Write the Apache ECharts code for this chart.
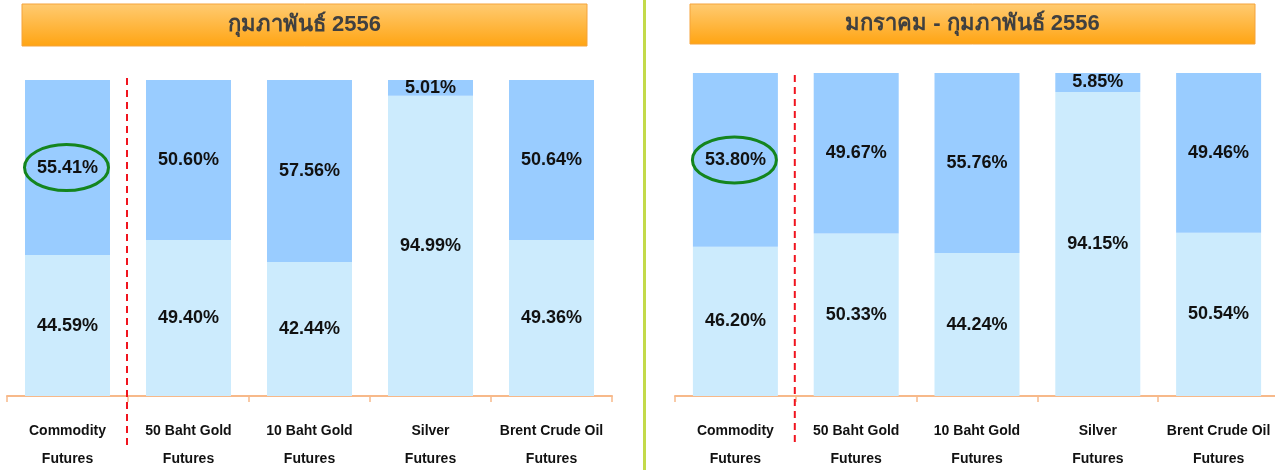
<!DOCTYPE html>
<html>
<head>
<meta charset="utf-8">
<script src="https://cdn.jsdelivr.net/npm/echarts@6/dist/echarts.min.js"></script>
<style>
  html, body { margin: 0; padding: 0; background: #fff; }
  #chart { width: 1275px; height: 470px; }
</style>
</head>
<body>
<div id="chart"></div>
<script>
  const categories = ['Commodity\nFutures', '50 Baht Gold\nFutures', '10 Baht Gold\nFutures', 'Silver\nFutures', 'Brent Crude Oil\nFutures'];
  const febBottom = [44.59, 49.40, 42.44, 94.99, 49.36];
  const febTop = [55.41, 50.60, 57.56, 5.01, 50.64];
  const janFebBottom = [46.20, 50.33, 44.24, 94.15, 50.54];
  const janFebTop = [53.80, 49.67, 55.76, 5.85, 49.46];
  const titles = ['กุมภาพันธ์ 2556', 'มกราคม - กุมภาพันธ์ 2556'];

  const FONT = 'Liberation Sans';
  const TOP_COLOR = '#99CCFF';
  const BOTTOM_COLOR = '#CCEBFD';
  const AXIS_COLOR = '#F7B98A';

  const myChart = echarts.init(document.getElementById('chart'));

  const xAxisOf = (gridIndex)=>({
    type: 'category',
    gridIndex,
    data: categories,
    axisLine: { show: true, lineStyle: { color: AXIS_COLOR, width: 2 } },
    axisTick: { show: true, length: 6, alignWithLabel: false, lineStyle: { color: AXIS_COLOR, width: 1.5 } },
    axisLabel: {
      color: '#111',
      fontFamily: FONT,
      fontWeight: 'bold',
      fontSize: 14,
      lineHeight: 28,
      margin: 21,
      interval: 0
    }
  });
  const yAxisOf = (gridIndex)=>({
    type: 'value', gridIndex, min: 0, max: 100, show: false, splitLine: { show: false }
  });
  const barOf = (name, idx, data, color)=>({
    name,
    type: 'bar',
    stack: 's' + idx,
    xAxisIndex: idx,
    yAxisIndex: idx,
    data,
    barWidth: 85,
    itemStyle: { color },
    label: {
      show: true,
      position: 'inside',
      color: '#111',
      fontFamily: FONT,
      fontWeight: 'bold',
      fontSize: 18,
      formatter: (p)=> p.value.toFixed(2) + '%'
    }
  });

  const titleBox = (x, y, w, h, text)=>({
    type: 'group',
    children: [
      {
        type: 'rect',
        shape: { x, y, width: w, height: h },
        style: {
          fill: new echarts.graphic.LinearGradient(0, 0, 0, 1, [
            { offset: 0, color: '#FFCB72' },
            { offset: 1, color: '#FFA412' }
          ]),
          stroke: '#F5A33A',
          lineWidth: 1
        }
      },
      {
        type: 'text',
        x: x + w / 2,
        y: y + h / 2,
        style: {
          text,
          fill: '#404040',
          font: 'bold 22px ' + FONT,
          align: 'center',
          verticalAlign: 'middle'
        }
      }
    ]
  });

  myChart.setOption({
    animation: false,
    grid: [
      { left: 7, top: 80, width: 605, bottom: 74, outerBoundsMode: 'none' },
      { left: 675, top: 73, width: 604, bottom: 74, outerBoundsMode: 'none' }
    ],
    xAxis: [xAxisOf(0), xAxisOf(1)],
    yAxis: [yAxisOf(0), yAxisOf(1)],
    series: [
      barOf('feb-bottom', 0, febBottom, BOTTOM_COLOR),
      barOf('feb-top', 0, febTop, TOP_COLOR),
      barOf('janfeb-bottom', 1, janFebBottom, BOTTOM_COLOR),
      barOf('janfeb-top', 1, janFebTop, TOP_COLOR)
    ]
  });

  // annotations placed from the chart's own scales
  const marks = [];
  [[0, febBottom, febTop, 78, 445], [1, janFebBottom, janFebTop, 75, 445]].forEach(([i, bot, top, y1, y2])=>{
    const c0 = myChart.convertToPixel({ xAxisIndex: i, yAxisIndex: i }, [0, bot[0] + top[0] / 2]);
    const c1 = myChart.convertToPixel({ xAxisIndex: i, yAxisIndex: i }, [1, 0]);
    const midX = (c0[0] + c1[0]) / 2 - 1;
    marks.push({
      type: 'line',
      shape: { x1: midX, y1, x2: midX, y2 },
      style: { stroke: '#F0141E', lineWidth: 2, lineDash: [7, 5] },
      z: 10
    });
    marks.push({
      type: 'ellipse',
      shape: { cx: c0[0] - 1, cy: c0[1], rx: 42, ry: 23 },
      style: { fill: 'none', stroke: '#14851E', lineWidth: 3 },
      z: 10
    });
  });

  myChart.setOption({
    graphic: [
      titleBox(22, 4, 565, 42, titles[0]),
      titleBox(690, 4, 565, 40, titles[1]),
      {
        type: 'rect',
        shape: { x: 643, y: 0, width: 3, height: 470 },
        style: { fill: '#C3DA4A' }
      }
    ].concat(marks)
  });
</script>
</body>
</html>
